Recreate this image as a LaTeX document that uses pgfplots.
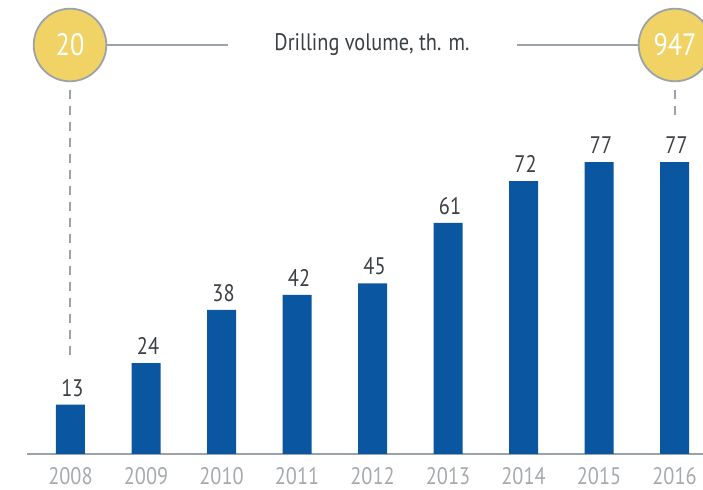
\documentclass[border=0pt]{standalone}
\usepackage{pgfplots}
\pgfplotsset{compat=1.18}
\usepackage{fontspec}
\setmainfont{PT Sans}[FakeStretch=0.85]
\definecolor{barblue}{RGB}{10,86,160}
\definecolor{circyel}{RGB}{240,211,100}
\definecolor{linegray}{RGB}{155,163,168}
\definecolor{valgray}{RGB}{58,63,68}
\definecolor{yeargray}{RGB}{165,170,174}
\begin{document}
\begin{tikzpicture}[x=1bp,y=1bp]
\useasboundingbox (0,0) rectangle (703,490);
\clip (0,0) rectangle (703,490);
\begin{axis}[
  at={(27bp,36bp)}, anchor=south west,
  scale only axis, width=676bp, height=379bp,
  xmin=-0.576, xmax=8.377, ymin=0, ymax=100,
  axis x line*=bottom, axis y line=none,
  x axis line style={draw=linegray, line width=1.5bp},
  major tick length=0,
  xtick=data,
  xticklabels={2008,2009,2010,2011,2012,2013,2014,2015,2016},
  xticklabel style={font=\fontsize{24}{28}\selectfont, text=yeargray, inner sep=0pt, text depth=0pt, yshift=-13bp},
  ybar, bar width=29bp,
  /pgf/number format/assume math mode=true,
  nodes near coords={\pgfmathprintnumber[assume math mode=true]{\pgfplotspointmeta}},
  nodes near coords style={font=\fontsize{24}{28}\selectfont, text=valgray, inner sep=0pt, yshift=8bp, xshift=2bp},
  clip=false,
]
\addplot[fill=barblue, draw=none] coordinates {(0,13) (1,24) (2,38) (3,42) (4,45) (5,61) (6,72) (7,77) (8,77)};
\end{axis}
\draw[linegray, line width=1.5bp] (106,445) -- (228,445);
\draw[linegray, line width=1.5bp] (517,445) -- (638,445);
\draw[linegray, line width=1.5bp, dash pattern=on 9bp off 7bp] (70,400) -- (70,133);
\draw[linegray, line width=1.5bp, dash pattern=on 9bp off 7bp] (675,400) -- (675,375);
\draw[linegray, line width=1.8bp, fill=circyel] (70,445) circle (36.3);
\draw[linegray, line width=1.8bp, fill=circyel] (675,445) circle (36.3);
\node[text=white, font=\fontsize{31}{36}\selectfont] at (70,445) {20};
\node[text=white, font=\fontsize{31}{36}\selectfont] at (675,445) {947};
\node[text=valgray, font=\fontsize{24}{28}\selectfont] at (372,445) {Drilling volume, th. m.};
\end{tikzpicture}
\end{document}
